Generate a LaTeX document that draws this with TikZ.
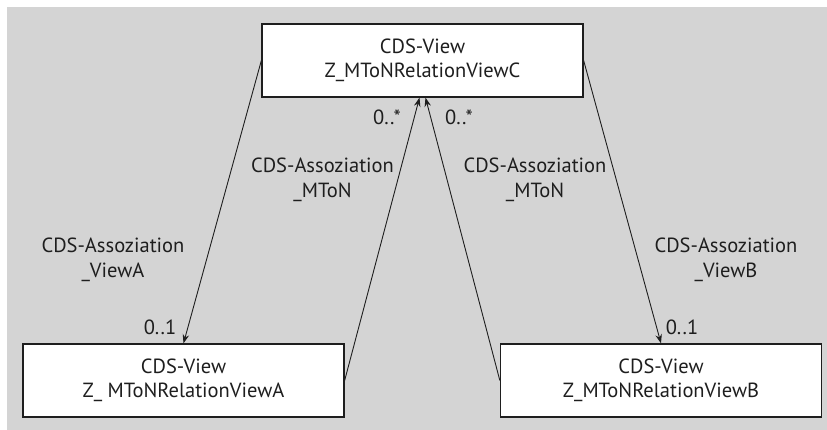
\documentclass[tikz,border=0pt]{standalone}
\usepackage{fontspec}
\setmainfont{PT Sans}
\usetikzlibrary{arrows.meta}
\definecolor{bggray}{HTML}{D4D4D4}
\definecolor{ink}{HTML}{1E1E1E}
\begin{document}
\begin{tikzpicture}[
  x=1pt, y=-1pt,
  view/.style={draw=ink, fill=white, line width=1.3pt, minimum width=321pt, minimum height=73pt, inner sep=0pt, align=center, text=ink, font=\fontsize{20.5}{24}\selectfont},
  assoc/.style={draw=ink, line width=0.9pt, -{Stealth[length=9pt, width=6.5pt]}},
  lbl/.style={align=center, inner sep=0pt, text=ink, font=\fontsize{20.5}{25}\selectfont}
]
\useasboundingbox (0,0) rectangle (827,430);
\fill[bggray] (7,7) rectangle (827,430);
% views
\node[view] (viewC) at (422.5,60.5) {CDS-View\\Z\_MToNRelationViewC};
\node[view] (viewA) at (183.5,380.5) {CDS-View\\Z\_ MToNRelationViewA};
\node[view] (viewB) at (661,380.5) {CDS-View\\Z\_MToNRelationViewB};
% associations
\draw[assoc] (viewC.west) -- (viewA.north);
\draw[assoc] (viewC.east) -- (viewB.north);
\draw[assoc] (viewA.east) -- ([xshift=-3pt]viewC.south);
\draw[assoc] (viewB.west) -- ([xshift=3pt]viewC.south);
% labels
\node[lbl] (lblViewA) at (113,260) {CDS-Assoziation\\\_ViewA};
\node[lbl] (lblMToNA) at (322.5,180) {CDS-Assoziation\\\_MToN};
\node[lbl] (lblMToNB) at (535,180) {CDS-Assoziation\\\_MToN};
\node[lbl] (lblViewB) at (726,260) {CDS-Assoziation\\\_ViewB};
\node[lbl] (cardA) at (160,327) {0..1};
\node[lbl] (cardB) at (682,327) {0..1};
\node[lbl] (cardCA) at (387,117) {0..*};
\node[lbl] (cardCB) at (459,117) {0..*};
\end{tikzpicture}
\end{document}
